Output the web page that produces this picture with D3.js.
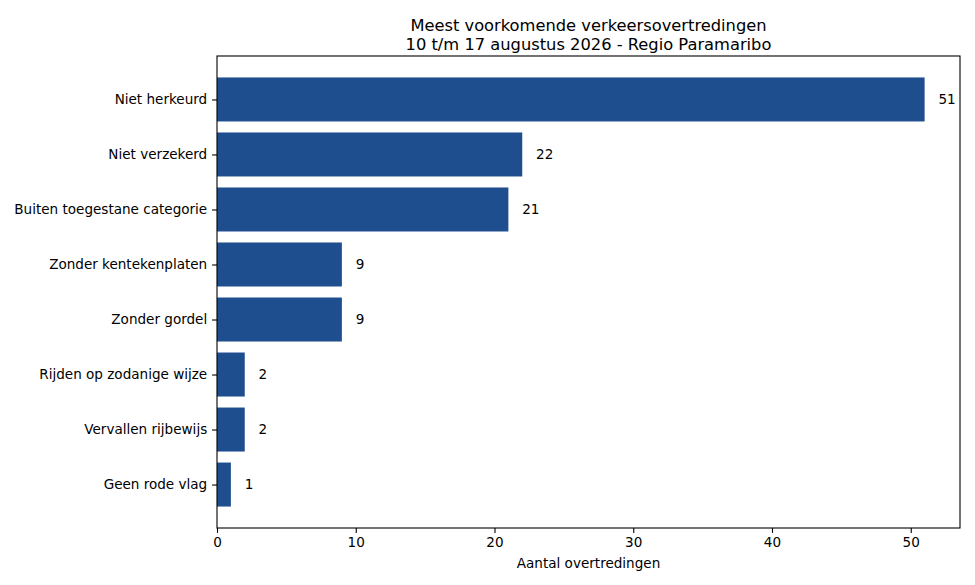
<!DOCTYPE html>
<html><head><meta charset="utf-8">
<script src="https://cdn.jsdelivr.net/npm/d3@7"></script>
<style>body{margin:0;background:#fff}text{font-family:"DejaVu Sans",sans-serif}</style>
</head><body><svg id="c" width="975" height="585"></svg>
<script>
const categories = ["Niet herkeurd","Niet verzekerd","Buiten toegestane categorie","Zonder kentekenplaten","Zonder gordel","Rijden op zodanige wijze","Vervallen rijbewijs","Geen rode vlag"];
const values = [51,22,21,9,9,2,2,1];
const xTicks = [0,10,20,30,40,50];
const titleLines = ["Meest voorkomende verkeersovertredingen","10 t/m 17 augustus 2026 - Regio Paramaribo"];
const xLabel = "Aantal overtredingen";

const svg = d3.select("#c");
const L=217,R=960,T=56,B=528;
const fs = "13.55px", tfs = "16.3px";
const x = d3.scaleLinear().domain([0, d3.max(values)*1.05]).range([L,R]);
const y = d3.scaleLinear().domain([-0.79, categories.length-1+0.79]).range([T,B]);
const bh = (y(0.4)-y(-0.4));

svg.selectAll("rect.bar").data(values).enter().append("rect")
  .attr("x", x(0)).attr("y",(d,i)=>y(i)-bh/2)
  .attr("width", d=>x(d)-x(0)).attr("height", bh)
  .attr("fill","#1f4e8f");

svg.selectAll("text.val").data(values).enter().append("text")
  .attr("x", d=>x(d+1)).attr("y",(d,i)=>y(i)).attr("dy","0.35em")
  .attr("font-size",fs).text(d=>d);

const xa = svg.append("g").attr("transform",`translate(0,${B})`)
  .call(d3.axisBottom(x).tickValues(xTicks).tickSize(4.9).tickPadding(4.9));
const ya = svg.append("g").attr("transform",`translate(${L},0)`)
  .call(d3.axisLeft(y).tickValues(d3.range(categories.length)).tickFormat(i=>categories[i]).tickSize(4.9).tickPadding(4.9));
[xa,ya].forEach(g=>{g.select(".domain").remove();g.selectAll("text").attr("font-size",fs).attr("fill","#000").style("font-family","DejaVu Sans");g.selectAll("line").attr("stroke","#000").attr("stroke-width",1.1);});

svg.append("rect").attr("x",L).attr("y",T).attr("width",R-L).attr("height",B-T)
  .attr("fill","none").attr("stroke","#000").attr("stroke-width",1.1);

svg.append("text").attr("x",(L+R)/2).attr("y",563).attr("dy","0.35em").attr("text-anchor","middle").attr("font-size",fs).text(xLabel);
titleLines.forEach((t,i)=>svg.append("text").attr("x",(L+R)/2).attr("y",25+i*19).attr("dy","0.35em").attr("text-anchor","middle").attr("font-size",tfs).text(t));
</script></body></html>
